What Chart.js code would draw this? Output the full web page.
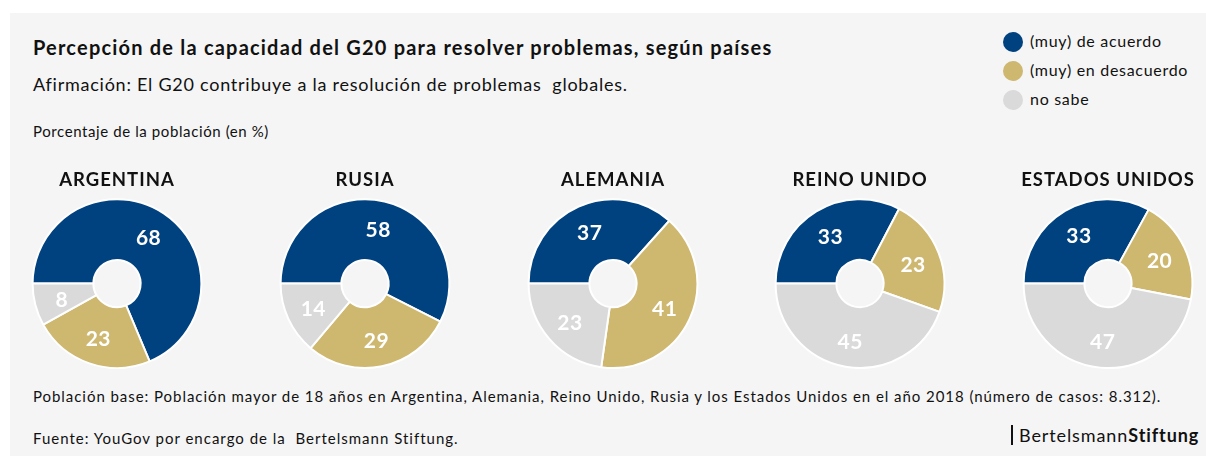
<!DOCTYPE html>
<html>
<head>
<meta charset="utf-8">
<script src="https://cdn.jsdelivr.net/npm/chart.js@4"></script>
<style>
  html, body { margin: 0; padding: 0; background: #fff; }
  body { width: 1206px; height: 456px; position: relative; overflow: hidden; font-family: Lato, "Noto Sans", sans-serif; color: #111; }
  #panel { position: absolute; left: 10px; top: 13px; right: 0; bottom: 0; background: #f5f5f5; }
  .txt { position: absolute; white-space: pre; line-height: 1.2; }
  .pie { position: absolute; }
  .leg { position: absolute; left: 1003px; font-size: 16px; line-height: 20px; height: 20px; letter-spacing: 0.7px; }
  .leg span.dot { position: absolute; left: 0; top: 0; width: 20px; height: 20px; border-radius: 50%; }
  .leg span.lbl { position: absolute; left: 27px; top: -1px; white-space: nowrap; }
</style>
</head>
<body>
<div id="panel"></div>
<div class="txt" style="left:33px; top:35px; font-size:20px; font-weight:bold; letter-spacing:1.2px;">Percepción de la capacidad del G20 para resolver problemas, según países</div>
<div class="txt" style="left:33px; top:74px; font-size:18px; letter-spacing:0.75px;">Afirmación: El G20 contribuye a la resolución de problemas  globales.</div>
<div class="txt" style="left:33px; top:122px; font-size:15px; letter-spacing:0.6px;">Porcentaje de la población (en %)</div>
<div class="txt" style="left:33px; top:387px; font-size:15px; letter-spacing:0.95px;">Población base: Población mayor de 18 años en Argentina, Alemania, Reino Unido, Rusia y los Estados Unidos en el año 2018 (número de casos: 8.312).</div>
<div class="txt" style="left:33px; top:429px; font-size:15px; letter-spacing:1px;">Fuente: YouGov por encargo de la  Bertelsmann Stiftung.</div>
<div style="position:absolute; left:1011px; top:425px; width:2px; height:20px; background:#111;"></div>
<div class="txt" style="left:1019px; top:425px; font-size:18px; letter-spacing:0.9px;">Bertelsmann<b>Stiftung</b></div>
<div id="legend"></div>
<div id="charts"></div>

<script>
const countries = ['ARGENTINA', 'RUSIA', 'ALEMANIA', 'REINO UNIDO', 'ESTADOS UNIDOS'];
const seriesLabels = ['(muy) de acuerdo', '(muy) en desacuerdo', 'no sabe'];
const deAcuerdo = [68, 58, 37, 33, 33];
const enDesacuerdo = [23, 29, 41, 23, 20];
const noSabe = [8, 14, 23, 45, 47];
const colors = ['#00427f', '#ceb76f', '#dadada'];

// legend
const legend = document.getElementById('legend');
seriesLabels.forEach((l, i) => {
  const row = document.createElement('div');
  row.className = 'leg';
  row.style.top = (32 + i * 29) + 'px';
  row.innerHTML = '<span class="dot" style="background:' + colors[i] + '"></span><span class="lbl">' + l + '</span>';
  legend.appendChild(row);
});

// spaced-out title text
const spacing = {
  id: 'spacing',
  beforeDraw(chart) { chart.ctx.letterSpacing = '1px'; }
};

// values inside the ring
const valueLabels = {
  id: 'valueLabels',
  afterDatasetsDraw(chart) {
    const ctx = chart.ctx;
    const meta = chart.getDatasetMeta(0);
    ctx.save();
    ctx.letterSpacing = '0.5px';
    ctx.fillStyle = '#fff';
    ctx.font = 'bold 21px Lato';
    ctx.textAlign = 'center';
    ctx.textBaseline = 'middle';
    meta.data.forEach((arc, i) => {
      const p = arc.tooltipPosition();
      const dx = p.x - arc.x, dy = p.y - arc.y;
      const d = Math.sqrt(dx * dx + dy * dy);
      const k = (d + 3) / d;
      ctx.fillText(chart.data.datasets[0].data[i], arc.x + dx * k, arc.y + dy * k + 2);
    });
    ctx.restore();
  }
};

const centers = [117, 365, 613, 860, 1108];
const holder = document.getElementById('charts');
countries.forEach((name, i) => {
  const wrap = document.createElement('div');
  wrap.className = 'pie';
  wrap.style.left = (centers[i] - 120) + 'px';
  wrap.style.top = '169px';
  wrap.style.width = '240px';
  wrap.style.height = '200px';
  const cv = document.createElement('canvas');
  wrap.appendChild(cv);
  holder.appendChild(wrap);
  new Chart(cv, {
    type: 'doughnut',
    data: {
      labels: seriesLabels,
      datasets: [{
        data: [deAcuerdo[i], enDesacuerdo[i], noSabe[i]],
        backgroundColor: colors,
        borderColor: '#fff',
        borderWidth: 2
      }]
    },
    options: {
      responsive: true,
      maintainAspectRatio: false,
      animation: false,
      rotation: -90,
      cutout: '28%',
      plugins: {
        legend: { display: false },
        tooltip: { enabled: false },
        title: {
          display: true,
          text: name,
          color: '#111',
          font: { family: 'Lato', size: 18.5, weight: 'bold' },
          padding: { top: 0, bottom: 7 }
        }
      }
    },
    plugins: [spacing, valueLabels]
  });
});
</script>
</body>
</html>
